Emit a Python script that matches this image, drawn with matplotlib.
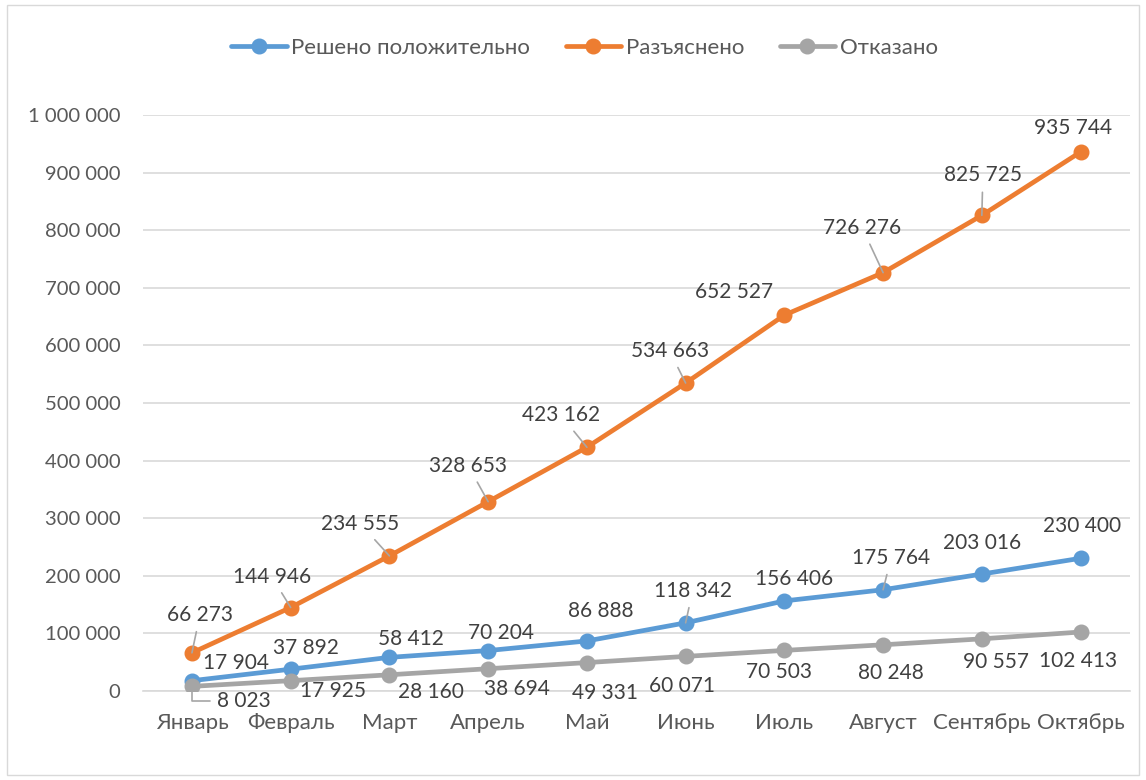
import matplotlib.pyplot as plt
from matplotlib.patches import Rectangle
from matplotlib.ticker import FuncFormatter, MultipleLocator

plt.rcParams["font.family"] = ["Lato", "DejaVu Sans"]

months = ["Январь", "Февраль", "Март", "Апрель", "Май", "Июнь",
          "Июль", "Август", "Сентябрь", "Октябрь"]
resheno = [17904, 37892, 58412, 70204, 86888, 118342, 156406, 175764, 203016, 230400]
razyasneno = [66273, 144946, 234555, 328653, 423162, 534663, 652527, 726276, 825725, 935744]
otkazano = [8023, 17925, 28160, 38694, 49331, 60071, 70503, 80248, 90557, 102413]

# смещения подписей (пиксели, вверх +) и точки с выносками
off_blue = [(44, 18), (15, 21), (22, 18), (13, 18), (14, 30), (7, 32), (10, 22), (8, 32), (0, 31), (1, 32)]
off_orange = [(8, 38), (-19, 31), (-29, 32), (-20, 36), (-26, 32), (-16, 32), (-50, 23), (-21, 45), (1, 40), (-8, 24)]
off_gray = [(52, -15), (42, -10), (42, -17), (29, -20), (18, -30), (-4, -30), (-5, -22), (8, -28), (14, -23), (-3, -29)]
lead_blue = {5, 7}
lead_orange = {0, 1, 2, 3, 4, 5, 7, 8}
lead_gray = {0}

fig = plt.figure(figsize=(11.46, 7.8), dpi=100)
ax = fig.add_axes([0.1244, 0.1141, 0.8616, 0.7385])

fig.patches.append(Rectangle((0.006, 0.006), 0.988, 0.988, transform=fig.transFigure,
                             fill=False, edgecolor="#D9D9D9", linewidth=1))

series = [
    ("Решено положительно", resheno, "#5B9BD5", off_blue, lead_blue),
    ("Разъяснено", razyasneno, "#ED7D31", off_orange, lead_orange),
    ("Отказано", otkazano, "#A5A5A5", off_gray, lead_gray),
]
x = list(range(len(months)))

for name, vals, col, offs, leads in series:
    ax.plot(x, vals, color=col, lw=3.4, marker="o", markersize=10.5,
            label=name, solid_capstyle="round", zorder=3)

for name, vals, col, offs, leads in series:
    for i, v in enumerate(vals):
        lbl = f"{v:,}".replace(",", " ")
        kw = {}
        if i in leads:
            cs = "angle,angleA=0,angleB=90,rad=0" if col == "#A5A5A5" else "arc3"
            kw["arrowprops"] = dict(arrowstyle="-", color="#A6A6A6", lw=1.2,
                                    shrinkA=3, shrinkB=0, connectionstyle=cs)
        ax.annotate(lbl, (i, v), xytext=offs[i], textcoords="offset pixels",
                    ha="center", va="center", fontsize=15, color="#404040",
                    zorder=5, **kw)

ax.set_xlim(-0.5, len(months) - 0.5)
ax.set_ylim(0, 1000000)
ax.yaxis.set_major_locator(MultipleLocator(100000))
ax.yaxis.set_major_formatter(FuncFormatter(lambda v, p: f"{int(v):,}".replace(",", " ")))
ax.set_xticks(x)
ax.set_xticklabels(months)
ax.tick_params(axis="both", length=0, labelcolor="#595959")
ax.tick_params(axis="y", pad=16, labelsize=14.6)
ax.tick_params(axis="x", pad=16, labelsize=16)
ax.grid(axis="y", color="#D9D9D9", lw=1.2, zorder=0)
ax.set_axisbelow(True)
for s in ["top", "right", "left"]:
    ax.spines[s].set_visible(False)
ax.spines["bottom"].set_color("#D9D9D9")
ax.spines["bottom"].set_linewidth(1.2)

fig.legend(loc="center", bbox_to_anchor=(0.51, 1 - 48 / 780), ncol=3, frameon=False,
           fontsize=16, handlelength=2.5, handletextpad=0.2, columnspacing=1.6,
           labelcolor="#595959")

fig.savefig("out.png", dpi=100)
